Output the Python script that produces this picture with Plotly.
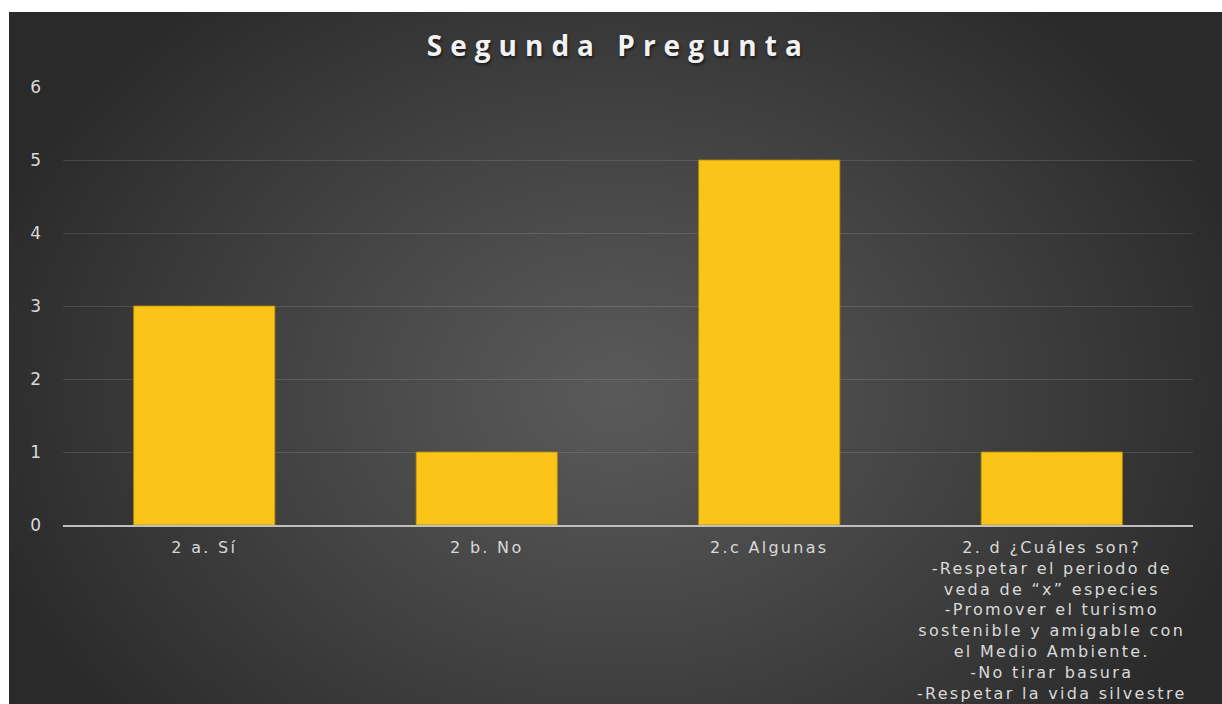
import base64
import struct
import zlib

import numpy as np
import plotly.graph_objects as go

# ---------------- data ----------------
categories = ["2 a. Sí", "2 b. No", "2.c Algunas", "2. d ¿Cuáles son?"]
category_lines = [
    ["2 a. Sí"],
    ["2 b. No"],
    ["2.c Algunas"],
    [
        "2. d ¿Cuáles son?",
        "-Respetar el periodo de",
        "veda de “x” especies",
        "-Promover el turismo",
        "sostenible y amigable con",
        "el Medio Ambiente.",
        "-No tirar basura",
        "-Respetar la vida silvestre",
    ],
]
values = [3, 1, 5, 1]
y_ticks = [0, 1, 2, 3, 4, 5, 6]
title_text = "Segunda Pregunta"


# ---------------- background gradient image ----------------
def make_png(arr):
    h, w, _ = arr.shape
    raw = b"".join(b"\x00" + arr[i].tobytes() for i in range(h))

    def chunk(tag, data):
        c = struct.pack(">I", len(data)) + tag + data
        return c + struct.pack(">I", zlib.crc32(tag + data) & 0xFFFFFFFF)

    png = b"\x89PNG\r\n\x1a\n"
    png += chunk(b"IHDR", struct.pack(">IIBBBBB", w, h, 8, 2, 0, 0, 0))
    png += chunk(b"IDAT", zlib.compress(raw, 9))
    png += chunk(b"IEND", b"")
    return "data:image/png;base64," + base64.b64encode(png).decode()


W, H = 607, 346
yy, xx = np.mgrid[0:H, 0:W].astype(float)
cx, cy = W * 0.50, H * 0.55
d = np.sqrt(((xx - cx) / (W * 0.55)) ** 2 + ((yy - cy) / (H * 0.75)) ** 2)
d = np.clip(d, 0, 1)
inner, outer = 0x5a, 0x2a
v = (inner + (outer - inner) * d ** 1.1).astype(np.uint8)
img = np.stack([v, v, v], axis=-1)
bg_src = make_png(img)

# ---------------- tick text ----------------
SP = "letter-spacing:2.3px"
ticktext = ["<br>".join('<span style="%s">%s</span>' % (SP, ln) for ln in lines)
            for lines in category_lines]

# ---------------- figure ----------------
fig = go.Figure()
fig.add_trace(
    go.Bar(
        x=categories,
        y=values,
        marker=dict(color="#fbc419", line=dict(color="#b58a00", width=0.8)),
        width=0.5,
        hoverinfo="x+y",
    )
)

# plot area: x 63..1193, y 87..525 (pixels)
L, R, T, B = 63, 29, 87, 179
pw, ph = 1222 - L - R, 704 - T - B
x0 = (9 - L) / pw
x1 = (1222 - L) / pw
ytop = (704 - B - 12) / ph
ybot = (704 - B - 704) / ph

fig.add_layout_image(
    dict(
        source=bg_src,
        xref="paper",
        yref="paper",
        x=x0,
        y=ytop,
        sizex=x1 - x0,
        sizey=ytop - ybot,
        xanchor="left",
        yanchor="top",
        sizing="stretch",
        layer="below",
    )
)

fig.update_layout(
    width=1222,
    height=704,
    margin=dict(l=L, r=R, t=T, b=B, pad=0, autoexpand=False),
    paper_bgcolor="white",
    plot_bgcolor="rgba(0,0,0,0)",
    showlegend=False,
    bargap=0.5,
    title=dict(
        text='<span style="letter-spacing:8px">' + title_text + "</span>",
        x=0.506,
        xref="container",
        xanchor="center",
        y=1 - 46 / 704,
        yref="container",
        yanchor="middle",
        font=dict(family="Open Sans", size=28, color="#f2f2f2", weight="bold",
                  shadow="1px 2px 3px rgba(0,0,0,0.6)"),
    ),
    font=dict(family="DejaVu Sans", color="#d9d9d9"),
)

fig.update_xaxes(
    automargin=False,
    tickmode="array",
    tickvals=categories,
    ticktext=ticktext,
    showgrid=False,
    showline=True,
    linecolor="#bfbfbf",
    linewidth=1.5,
    ticks="",
    tickfont=dict(family="DejaVu Sans", size=16, color="#d9d9d9"),
    tickangle=0,
    ticklabelstandoff=7,
)
fig.update_yaxes(
    automargin=False,
    range=[0, 6],
    tickvals=y_ticks,
    showgrid=True,
    gridcolor="rgba(255,255,255,0.12)",
    gridwidth=1,
    zeroline=False,
    showline=False,
    ticks="",
    tickfont=dict(family="DejaVu Sans", size=17, color="#d9d9d9"),
    ticklabelstandoff=21,
)

fig.write_html("out.html", config={"displayModeBar": False},
               post_script="document.body.style.margin='0';")
